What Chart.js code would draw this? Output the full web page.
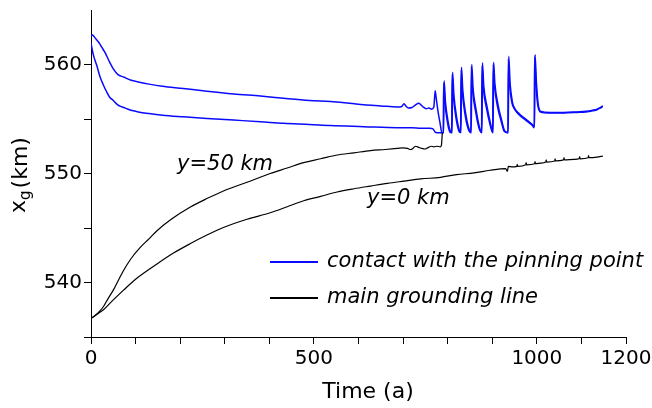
<!DOCTYPE html>
<html>
<head>
<meta charset="utf-8">
<script src="https://cdn.jsdelivr.net/npm/chart.js@4"></script>
<style>
  body { margin: 0; background: #fff; }
</style>
</head>
<body>
<canvas id="chart" width="652" height="408"></canvas>
<script>
// contact with the pinning point, two curves (y=50 km upper, y=0 km lower)
const pinUpperT = [0, 3, 10, 18, 24, 30, 35, 42, 50, 60, 73, 90, 106, 130, 160, 207, 260, 320, 380, 432, 490, 537, 580, 612, 650, 687, 697, 702, 706, 712, 720, 728, 735, 740, 745, 752, 758, 764, 769, 772, 774, 778, 783, 787, 791, 792, 795, 800, 806, 810, 811, 814, 820, 826, 830, 831, 834, 840, 847, 853, 854, 857, 864, 871, 877, 878, 881, 888, 896, 902, 903, 906, 913, 921, 928, 936, 937, 940, 945, 950, 960, 975, 990, 995, 996, 999, 1003, 1009, 1030, 1060, 1090, 1110, 1125, 1135, 1142, 1148];
const pinUpperV = [562.6, 562.7, 562.4, 562.0, 561.6, 561.2, 560.8, 560.2, 559.6, 559.1, 558.85, 558.55, 558.4, 558.2, 558.0, 557.8, 557.55, 557.3, 557.1, 556.9, 556.7, 556.6, 556.45, 556.3, 556.2, 556.1, 556.15, 556.4, 556.2, 556.0, 556.05, 556.3, 556.45, 556.3, 556.1, 555.95, 556.0, 555.9, 556.1, 557.6, 557.0, 555.8, 554.6, 553.75, 553.75, 558.5, 556.6, 555.0, 553.9, 553.75, 559.3, 557.2, 555.2, 554.0, 553.75, 559.75, 557.6, 555.6, 554.2, 553.75, 560.0, 557.8, 555.8, 554.3, 553.75, 560.15, 558.0, 556.2, 554.6, 553.75, 560.2, 558.2, 556.3, 554.9, 553.9, 553.75, 560.75, 558.3, 556.6, 556.0, 555.5, 555.0, 554.5, 554.3, 560.9, 558.4, 556.4, 555.7, 555.6, 555.6, 555.65, 555.7, 555.8, 555.9, 556.05, 556.2];

const pinLowerT = [0, 4, 8, 13, 20, 28, 35, 42, 50, 60, 70, 80, 95, 106, 130, 160, 207, 260, 320, 380, 432, 490, 537, 612, 687, 720, 740, 760, 767, 772, 776, 790, 791, 794, 799, 805, 809, 810, 813, 819, 825, 829, 830, 833, 839, 846, 852, 853, 856, 863, 870, 876, 877, 880, 887, 895, 901, 902, 905, 912, 920, 927, 935, 936, 939, 944, 950, 960, 975, 990, 994, 995, 998, 1002, 1008, 1030, 1060, 1090, 1110, 1125, 1135, 1142, 1148];
const pinLowerV = [562.0, 561.1, 560.5, 559.9, 558.9, 558.1, 557.5, 557.0, 556.7, 556.3, 556.1, 555.95, 555.75, 555.65, 555.5, 555.35, 555.2, 555.05, 554.9, 554.75, 554.6, 554.5, 554.4, 554.3, 554.2, 554.2, 554.15, 554.15, 554.1, 553.8, 553.75, 553.75, 558.3, 556.4, 554.8, 553.8, 553.75, 559.1, 557.0, 555.0, 553.9, 553.75, 559.5, 557.4, 555.4, 554.1, 553.75, 559.8, 557.6, 555.6, 554.2, 553.75, 559.9, 557.8, 556.0, 554.5, 553.75, 560.0, 558.0, 556.1, 554.8, 553.85, 553.75, 560.5, 558.1, 556.5, 555.9, 555.4, 554.9, 554.4, 554.2, 560.7, 558.2, 556.3, 555.65, 555.55, 555.55, 555.6, 555.65, 555.75, 555.85, 556.0, 556.15];

// main grounding line
const glineY50T = [0, 10, 20, 28, 38, 50, 60, 73, 90, 110, 130, 148, 180, 222, 260, 297, 350, 402, 440, 477, 515, 552, 590, 627, 660, 687, 700, 710, 717, 722, 728, 735, 742, 750, 757, 763, 769, 776, 784, 786, 788];
const glineY50V = [536.7, 537.0, 537.4, 537.8, 538.5, 539.3, 540.1, 541.1, 542.2, 543.2, 544.0, 544.75, 545.8, 546.9, 547.7, 548.4, 549.2, 550.0, 550.5, 551.0, 551.35, 551.7, 551.9, 552.1, 552.2, 552.3, 552.35, 552.3, 552.2, 552.3, 552.5, 552.4, 552.3, 552.25, 552.4, 552.5, 552.45, 552.5, 552.45, 552.6, 553.75];

const glineY0T = [0, 10, 28, 50, 73, 100, 148, 185, 222, 260, 297, 350, 402, 440, 477, 515, 552, 590, 627, 665, 702, 740, 784, 820, 859, 895, 930, 934, 936, 945, 955, 956, 957, 975, 976, 977, 995, 996, 997, 1009, 1020, 1021, 1022, 1040, 1041, 1042, 1060, 1061, 1062, 1084, 1095, 1096, 1097, 1115, 1116, 1117, 1135, 1148];
const glineY0V = [536.7, 537.0, 537.5, 538.4, 539.3, 540.3, 541.7, 542.7, 543.55, 544.35, 545.05, 545.8, 546.4, 546.95, 547.5, 547.9, 548.3, 548.6, 548.85, 549.1, 549.3, 549.5, 549.65, 549.9, 550.05, 550.3, 550.45, 550.2, 550.65, 550.6, 550.65, 550.85, 550.65, 550.8, 551.0, 550.8, 550.9, 551.1, 550.9, 550.95, 551.05, 551.25, 551.05, 551.15, 551.35, 551.15, 551.25, 551.45, 551.25, 551.3, 551.35, 551.55, 551.35, 551.45, 551.65, 551.45, 551.5, 551.6];

const xLabels = [0, 500, 1000, 1200];
const yLabels = [540, 550, 560];
const legendItems = ["contact with the pinning point", "main grounding line"];

const BLUE = "#0a0aff";
const FONT = "'DejaVu Sans', sans-serif";

const toPoints = (ts, vs) => ts.map((t, i) => ({ x: t, y: vs[i] }));

const line = (ts, vs, color, width) => ({
  data: toPoints(ts, vs),
  borderColor: color,
  borderWidth: width,
  pointRadius: 0,
  cubicInterpolationMode: "monotone",
  fill: false
});

// text that sits inside the plot: legend, curve names, axis titles
const annotations = {
  id: "annotations",
  afterDraw(chart) {
    const ctx = chart.ctx;
    ctx.save();
    ctx.fillStyle = "#000";
    ctx.textBaseline = "middle";

    // legend
    const legendColors = [BLUE, "#000"];
    legendItems.forEach((label, i) => {
      const y = 262 + i * 36;
      ctx.strokeStyle = legendColors[i];
      ctx.lineWidth = 2;
      ctx.beginPath();
      ctx.moveTo(270, y);
      ctx.lineTo(318, y);
      ctx.stroke();
      ctx.font = "oblique 21px " + FONT;
      ctx.textAlign = "left";
      ctx.fillText(label, 327, y);
    });

    ctx.font = "oblique 21px " + FONT;
    ctx.fillText("y=50 km", 177, 165);
    ctx.fillText("y=0 km", 367, 199);

    // x title
    ctx.font = "22px " + FONT;
    ctx.textAlign = "center";
    ctx.fillText("Time (a)", 368, 392);

    // y title with subscript
    ctx.translate(21, 175);
    ctx.rotate(-Math.PI / 2);
    ctx.font = "22px " + FONT;
    const wx = ctx.measureText("x").width;
    ctx.font = "15px " + FONT;
    const wg = ctx.measureText("g").width;
    ctx.font = "22px " + FONT;
    const wk = ctx.measureText("(km)").width;
    let x0 = -(wx + wg + 2 + wk) / 2;
    ctx.textAlign = "left";
    ctx.fillText("x", x0, -2);
    ctx.font = "15px " + FONT;
    ctx.fillText("g", x0 + wx, 5);
    ctx.font = "22px " + FONT;
    ctx.fillText("(km)", x0 + wx + wg + 2, 0);
    ctx.restore();
  }
};

new Chart("chart", {
  type: "line",
  data: {
    datasets: [
      line(glineY50T, glineY50V, "#000", 1.2),
      line(glineY0T, glineY0V, "#000", 1.2),
      line(pinLowerT, pinLowerV, BLUE, 1.5),
      line(pinUpperT, pinUpperV, BLUE, 1.5)
    ]
  },
  options: {
    responsive: false,
    animation: false,
    events: [],
    layout: { padding: { top: 10, right: 26, left: 0, bottom: 0 } },
    plugins: {
      legend: { display: false },
      tooltip: { enabled: false }
    },
    scales: {
      x: {
        type: "linear",
        min: 0,
        max: 1200,
        afterFit: scale => {
          scale.height = 71;
          scale.paddingLeft = 0;
          scale.paddingRight = 0;
        },
        border: { color: "#000", width: 1 },
        grid: { drawOnChartArea: false, tickLength: 7, tickColor: "#000" },
        ticks: {
          stepSize: 100,
          autoSkip: false,
          maxRotation: 0,
          padding: 3,
          color: "#000",
          font: { family: FONT, size: 20 },
          callback: v => (xLabels.includes(v) ? String(v) : "")
        }
      },
      y: {
        min: 535,
        max: 565,
        afterFit: scale => {
          scale.width = 91;
          scale.paddingTop = 0;
          scale.paddingBottom = 0;
        },
        border: { color: "#000", width: 1 },
        grid: {
          drawOnChartArea: false,
          tickLength: 7,
          tickColor: c => (c.tick && c.tick.value === 565 ? "rgba(0,0,0,0)" : "#000")
        },
        ticks: {
          stepSize: 5,
          padding: 2,
          color: "#000",
          font: { family: FONT, size: 20 },
          callback: v => (yLabels.includes(v) ? String(v) : "")
        }
      }
    }
  },
  plugins: [annotations]
});
</script>
</body>
</html>
